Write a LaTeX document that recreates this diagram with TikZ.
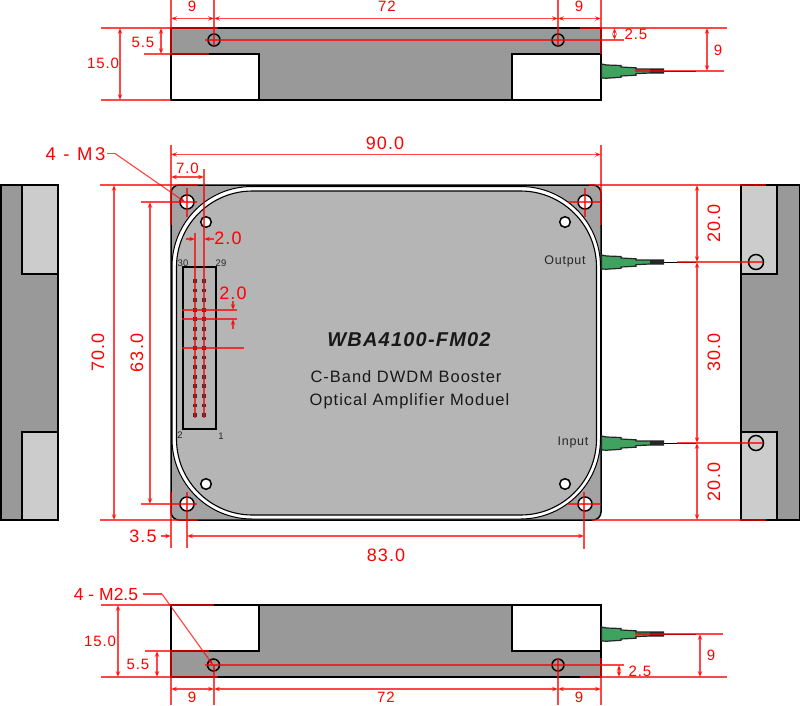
\documentclass[tikz,border=0pt]{standalone}
\usepackage{fontspec}
\usetikzlibrary{arrows.meta}
\setmainfont{Liberation Sans}
\newfontfamily\dimfont[LetterSpace=6]{Liberation Sans}
\newfontfamily\widefont[LetterSpace=13]{Liberation Sans}
\newfontfamily\plainfont{Liberation Sans}
\definecolor{bodygray}{HTML}{999999}
\definecolor{plategray}{HTML}{A3A3A3}
\definecolor{lidgray}{HTML}{B5B5B5}
\definecolor{sidelight}{HTML}{CCCCCC}
\definecolor{fibergreen}{HTML}{3FA35F}
\definecolor{dimred}{HTML}{FF0000}
\tikzset{
  outline/.style={draw=black,line width=1.3pt},
  redline/.style={draw=dimred,line width=1.15pt,draw opacity=.72},
  dimline/.style={redline,{Stealth[length=6pt,width=4.6pt,fill=dimred]}-{Stealth[length=6pt,width=4.6pt,fill=dimred]}},
  endarrow/.style={redline,-{Stealth[length=6pt,width=4.6pt,fill=dimred]}},
  dimbig/.style={text=dimred,inner sep=0pt,font=\dimfont\fontsize{18}{18}\selectfont},
  dimsmall/.style={text=dimred,inner sep=0pt,font=\dimfont\fontsize{15}{15}\selectfont},
  pinlabel/.style={text=black!85,inner sep=0pt,font=\fontsize{9.5}{9.5}\selectfont},
  portlabel/.style={text=black!85,inner sep=0pt,font=\dimfont\fontsize{12.5}{13}\selectfont},
  bodytext/.style={text=black!90,inner sep=0pt,font=\dimfont\fontsize{16.5}{17}\selectfont},
  holeblack/.style={draw=black,line width=1.5pt},
  holewhite/.style={draw=black,fill=white,line width=1.5pt},
}
\newcommand{\fiberat}[2]{%
  \draw[black,line width=1pt] (#1+62,#2) -- (#1+95,#2);
  \draw[fill=fibergreen,draw=black!85,line width=1.2pt,line join=miter]
    (#1+.5,#2-7) -- (#1+5.5,#2-6) -- (#1+20,#2-5.5) -- (#1+20,#2-4) -- (#1+35,#2-3.2) -- (#1+35,#2-2)
    -- (#1+49,#2-2) -- (#1+62.5,#2-2)
    -- (#1+62.5,#2+2) -- (#1+49,#2+2) -- (#1+35,#2+2.6) -- (#1+35,#2+4.2) -- (#1+20,#2+5) -- (#1+20,#2+6.3) -- (#1+5.5,#2+7.2) -- (#1+.5,#2+7) -- cycle;
  \fill[black!85] (#1+49,#2-2) rectangle (#1+62,#2+2);
}
\begin{document}
\begin{tikzpicture}[x=1pt,y=-1pt]
\useasboundingbox (0,0) rectangle (800,705);
\fill[white] (0,0) rectangle (800,705);

% ---------- top view
\fill[bodygray] (171,28) rectangle (601,100);
\fill[white] (171,54) rectangle (259,100) (512,54) rectangle (601,100);
\draw[outline] (171,28) rectangle (601,100);
\draw[outline] (171,54) -- (259,54) -- (259,100);
\draw[outline] (601,54) -- (512,54) -- (512,100);
\draw[holeblack] (214,40) circle (6);
\draw[holeblack] (558,40) circle (6);
\fiberat{601}{71}

% ---------- main view
\fill[plategray,draw=black,line width=1.5pt] (171,185) [rounded corners=8pt] -- (601,185) -- (601,520) -- (171,520) -- cycle;
\draw[draw=black,fill=white,line width=1pt,rounded corners=80pt] (172,186.5) rectangle (600.5,519);
\draw[draw=black,fill=lidgray,line width=1.1pt,rounded corners=76pt] (176.5,191) rectangle (596.5,515);
\foreach \p in {(187,202),(585,202),(187,504),(585,504)} \draw[holewhite] \p circle (7);
\foreach \p in {(206,222),(565,222),(206,484),(565,484)} \draw[holewhite] \p circle (5.3);
\fiberat{601}{262}
\fiberat{601}{443}

% connector block
\draw[draw=black,line width=1.4pt] (183,267) rectangle (216,429);
\foreach \i in {0,...,14} {
  \fill[black!80] (193.2,279.2+9.57*\i) rectangle (196.8,282.8+9.57*\i);
  \fill[black!80] (202.2,279.2+9.57*\i) rectangle (205.8,282.8+9.57*\i);
}
\node[pinlabel] (p30) at (183,263) {30};
\node[pinlabel] (p29) at (221,263) {29};
\node[pinlabel] (p2) at (180,435.5) {2};
\node[pinlabel] (p1) at (221,436) {1};

\node[inner sep=0pt,text=black!90,font=\dimfont\fontsize{20}{20}\selectfont\bfseries\itshape] (title) at (409,340) {WBA4100-FM02};
\node[bodytext] (line1) at (406,377) {C-Band DWDM Booster};
\node[bodytext] (line2) at (409.5,401) {Optical Amplifier Moduel};
\node[portlabel] (out) at (565,261) {Output};
\node[portlabel] (in) at (573,442) {Input};

% ---------- left side view
\fill[bodygray] (1,185) rectangle (58,520);
\fill[sidelight] (22,185) rectangle (58,274) (22,432) rectangle (58,520);
\draw[outline] (1,185) rectangle (58,520);
\draw[outline] (22,185) -- (22,274) -- (58,274);
\draw[outline] (22,520) -- (22,432) -- (58,432);

% ---------- right side view
\fill[bodygray] (741,185) rectangle (800,520);
\fill[sidelight] (741,185) rectangle (777,274) (741,432) rectangle (777,520);
\draw[outline] (800,185) -- (741,185) -- (741,520) -- (800,520);
\draw[draw=black,line width=2pt] (799.5,185) -- (799.5,520);
\draw[outline] (777,185) -- (777,274) -- (741,274);
\draw[outline] (777,520) -- (777,432) -- (741,432);
\draw[holeblack] (756,262) circle (7.5);
\draw[holeblack] (756,443) circle (7.5);

% ---------- bottom view
\fill[bodygray] (171,605) rectangle (601,677);
\fill[white] (171,605) rectangle (259,651) (512,605) rectangle (601,651);
\draw[outline] (171,605) rectangle (601,677);
\draw[outline] (171,651) -- (259,651) -- (259,605);
\draw[outline] (601,651) -- (512,651) -- (512,605);
\draw[holeblack] (213.5,665) circle (6);
\draw[holeblack] (558,665) circle (6);
\fiberat{601}{634}

% ========== dimensions: top view
\draw[redline] (171,0) -- (171,54);
\draw[redline] (214,0) -- (214,46);
\draw[redline] (558,0) -- (558,46);
\draw[redline] (601,0) -- (601,54);
\draw[dimline] (171,18.5) -- (214,18.5);
\draw[dimline] (214,18.5) -- (558,18.5);
\draw[dimline] (558,18.5) -- (601,18.5);
\draw[redline] (101,28) -- (218,28);
\draw[redline] (580,28) -- (727,28);
\draw[redline] (205,40) -- (624,40);
\draw[redline] (144,54) -- (209,54);
\draw[redline] (101,100) -- (171,100);
\draw[redline] (635,71) -- (724,71);
\draw[dimline] (120,28) -- (120,100);
\draw[dimline] (161,28) -- (161,54);
\draw[dimline] (614.5,28) -- (614.5,40);
\draw[dimline] (707,28) -- (707,71);
\node[dimsmall] (a1) at (192,6.5) {9};
\node[dimsmall] (a2) at (387,6.5) {72};
\node[dimsmall] (a3) at (579,6.5) {9};
\node[dimsmall] (a4) at (103,63) {15.0};
\node[dimsmall] (a5) at (143,42) {5.5};
\node[dimsmall] (a6) at (636,34) {2.5};
\node[dimsmall] (a7) at (718,50) {9};

% ========== dimensions: main view
\draw[redline] (171,145) -- (171,225);
\draw[redline] (601,145) -- (601,225);
\draw[dimline] (171,154.5) -- (601,154.5);
\draw[redline] (204,169) -- (204,418);
\draw[dimline] (171,177) -- (204,177);
\draw[redline] (100,185) -- (198,185);
\draw[redline] (589,185) -- (766,185);
\draw[redline] (100,520) -- (198,520);
\draw[redline] (592,520) -- (766,520);
\draw[redline] (141,202) -- (197,202);
\draw[redline] (187,188) -- (187,217);
\draw[redline] (568,202) -- (601,202);
\draw[redline] (585,188) -- (585,217);
\draw[redline] (141,504) -- (197,504);
\draw[redline] (568,504) -- (601,504);
\draw[dimline] (114,185) -- (114,520);
\draw[dimline] (150,202) -- (150,504);
\draw[redline] (107,153.5) -- (115,153.5);
\draw[endarrow] (115,153.5) -- (185,202);
% pin pitch
\draw[redline] (195,233) -- (195,418);
\draw[endarrow] (186,239) -- (195,239);
\draw[endarrow] (214,239) -- (204,239);
\draw[redline] (182,310) -- (237,310);
\draw[redline] (182,319) -- (237,319);
\draw[redline] (182,348) -- (244,348);
\draw[endarrow] (233,301) -- (233,310);
\draw[endarrow] (233,329) -- (233,319);
% 3.5 / 83
\draw[redline] (171,492) -- (171,548);
\draw[redline] (187,492) -- (187,548);
\draw[redline] (584,492) -- (584,549);
\draw[endarrow] (161,536) -- (171,536);
\draw[dimline] (187,536) -- (584,536);
% right
\draw[redline] (677,262) -- (763,262);
\draw[redline] (677,443) -- (763,443);
\draw[dimline] (697,185) -- (697,262);
\draw[dimline] (697,262) -- (697,443);
\draw[dimline] (697,443) -- (697,520);
\node[dimbig] (b1) at (385,143) {90.0};
\node[dimsmall] (b2) at (187.5,168) {7.0};
\node[text=dimred,inner sep=0pt,font=\widefont\fontsize{18.5}{18}\selectfont] (b3) at (75.5,154) {4 - M3};
\node[dimbig,rotate=90] (b4) at (98,352.5) {70.0};
\node[dimbig,rotate=90] (b5) at (137,353) {63.0};
\node[dimbig] (b6) at (228,238) {2.0};
\node[dimbig] (b7) at (233,293) {2.0};
\node[dimbig] (b8) at (143,536) {3.5};
\node[dimbig] (b9) at (386,555) {83.0};
\node[dimbig,rotate=90] (b10) at (714,223.5) {20.0};
\node[dimbig,rotate=90] (b11) at (714,352.5) {30.0};
\node[dimbig,rotate=90] (b12) at (714,482) {20.0};

% ========== dimensions: bottom view
\draw[redline] (171,651) -- (171,705);
\draw[redline] (214,665) -- (214,705);
\draw[redline] (558,658) -- (558,705);
\draw[redline] (601,658) -- (601,705);
\draw[dimline] (171,689) -- (214,689);
\draw[dimline] (214,689) -- (558,689);
\draw[dimline] (558,689) -- (601,689);
\draw[redline] (101,605) -- (214,605);
\draw[redline] (145,651) -- (209,651);
\draw[redline] (101,677) -- (218,677);
\draw[redline] (580,677) -- (727,677);
\draw[redline] (205,665) -- (624,665);
\draw[redline] (635,634) -- (723,634);
\draw[dimline] (118,605) -- (118,677);
\draw[dimline] (157,651) -- (157,677);
\draw[dimline] (619,665) -- (619,677);
\draw[dimline] (700,634) -- (700,677);
\draw[redline] (143,594) -- (162,594);
\draw[endarrow] (162,594) -- (213,665);
\node[text=dimred,inner sep=0pt,font=\plainfont\fontsize{17.5}{18}\selectfont] (c1) at (106,594) {4 - M2.5};
\node[dimsmall] (c2) at (100,641) {15.0};
\node[dimsmall] (c3) at (138,664) {5.5};
\node[dimsmall] (c4) at (192,697.5) {9};
\node[dimsmall] (c5) at (386,697.5) {72};
\node[dimsmall] (c6) at (579,697.5) {9};
\node[dimsmall] (c7) at (640,671) {2.5};
\node[dimsmall] (c8) at (711,655) {9};
\end{tikzpicture}
\end{document}
